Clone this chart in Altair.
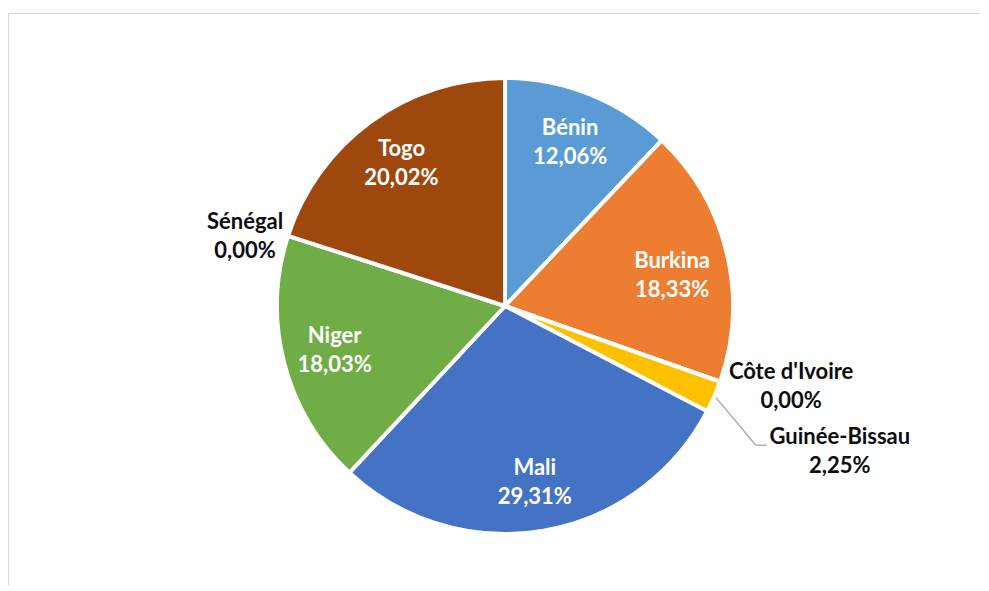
import altair as alt
import pandas as pd

countries = ["Bénin", "Burkina", "Côte d'Ivoire", "Guinée-Bissau", "Mali", "Niger", "Sénégal", "Togo"]
values = [12.06, 18.33, 0.00, 2.25, 29.31, 18.03, 0.00, 20.02]
colors = ["#5B9BD5", "#ED7D31", "#A5A5A5", "#FFC000", "#4472C4", "#70AD47", "#264478", "#9E480E"]

inside = ["Bénin", "Niger", "Togo"]

df = pd.DataFrame({
    "idx": list(range(len(countries))),
    "country": countries,
    "value": values,
    "label": [f"{c}\n{v:.2f}".replace(".", ",") + "%" for c, v in zip(countries, values)],
})

W, H = 950, 560
CX, CY = W / 2, H / 2
R_OUT = 228
FONT = "Lato"
FS = 22
LH = 29
HALF = -LH / 2

base = alt.Chart(df).encode(
    theta=alt.Theta("value:Q", stack=True),
    order=alt.Order("idx:Q"),
)

frame = alt.Chart(pd.DataFrame({"a": [0]})).mark_rect(
    fill="white", stroke="#D9D9D9", strokeWidth=1.2
).encode(
    x=alt.value(-21.5), x2=alt.value(990), y=alt.value(-12.5), y2=alt.value(620)
)

arcs = base.mark_arc(outerRadius=R_OUT, stroke="white", strokeWidth=4).encode(
    color=alt.Color("country:N", scale=alt.Scale(domain=countries, range=colors), legend=None)
)


def text_layer(names, radius, color, dx=0, dy=0):
    lst = ",".join('"' + n + '"' for n in names)
    return base.transform_calculate(
        lab=f"indexof([{lst}], datum.country) >= 0 ? datum.label : ''"
    ).mark_text(
        radius=radius, font=FONT, fontSize=FS, fontWeight="bold", color=color,
        lineBreak="\n", lineHeight=LH, align="center", baseline="middle", dx=dx, dy=dy
    ).encode(text="lab:N")


t_in = text_layer(inside, 176, "white", dy=HALF)
t_ml = text_layer(["Mali"], 176, "white", dy=HALF + 3)
t_bf = text_layer(["Burkina"], 176, "white", dx=-4, dy=HALF + 11)
t_ci = text_layer(["Côte d'Ivoire"], 297, "#0D0D0D", dx=6, dy=-18 + HALF)
t_gb = text_layer(["Guinée-Bissau"], 365, "#0D0D0D", dy=HALF)
t_sn = text_layer(["Sénégal"], 269, "#0D0D0D", dx=-4, dy=13 + HALF)

lead = alt.Chart(df).transform_joinaggregate(
    total="sum(value)"
).transform_window(
    cum="sum(value)", sort=[alt.SortField("idx")], frame=[None, 0]
).transform_calculate(
    a="(datum.cum - datum.value / 2) / datum.total * 2 * PI"
).transform_filter(
    alt.datum.country == "Guinée-Bissau"
).transform_calculate(
    x1=f"{CX} + 230 * sin(datum.a)",
    y1=f"{CY} - 230 * cos(datum.a)",
    lx=f"{CX} + 365 * sin(datum.a)",
    ly=f"{CY} - 365 * cos(datum.a)",
).transform_calculate(
    x2="datum.lx - 84", y2="datum.ly - 6", x3="datum.lx - 73"
)

lead1 = lead.mark_rule(color="#A6A6A6", strokeWidth=1.3).encode(
    x=alt.X("x1:Q", scale=None, axis=None), x2="x2:Q",
    y=alt.Y("y1:Q", scale=None, axis=None), y2="y2:Q",
)
lead2 = lead.mark_rule(color="#A6A6A6", strokeWidth=1.3).encode(
    x=alt.X("x2:Q", scale=None, axis=None), x2="x3:Q",
    y=alt.Y("y2:Q", scale=None, axis=None),
)

chart = alt.layer(frame, arcs, lead1, lead2, t_in, t_ml, t_bf, t_ci, t_gb, t_sn).properties(
    width=W, height=H,
    autosize=alt.AutoSizeParams(type="none"),
    padding={"left": 22, "top": 18, "right": 0, "bottom": 0},
    background="#FAFBFD",
).configure_view(stroke=None)

chart.save("out.html", embed_options={"renderer": "svg", "actions": False})
